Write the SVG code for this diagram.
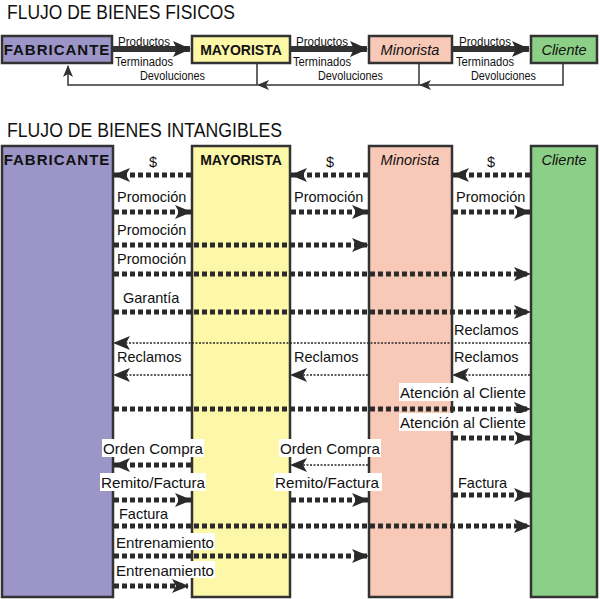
<svg xmlns="http://www.w3.org/2000/svg" width="600" height="599" viewBox="0 0 600 599">
<style>
text{font-family:"Liberation Sans",Arial,sans-serif;fill:#111}
.t{font-size:20px}
.l{font-size:14.5px}
.s{font-size:12px}
.h{font-size:14px;font-weight:bold}
.box{stroke:#333;stroke-width:2.5}
.d{stroke:#2a2a2a;stroke-width:5;stroke-dasharray:5 3;fill:none}
.th{stroke:#2a2a2a;stroke-width:1.5;stroke-dasharray:2 1.5;fill:none}
.p{stroke:#333;stroke-width:6;fill:none}
.r{stroke:#333;stroke-width:1.5;fill:none}
.w{fill:#fff}
</style>
<defs>
<marker id="a" markerUnits="userSpaceOnUse" markerWidth="18" markerHeight="16" refX="17" refY="8" orient="auto"><path d="M0,0 L18,8 L0,16 L4,8 Z" fill="#2a2a2a"/></marker>
<marker id="b" markerUnits="userSpaceOnUse" markerWidth="17" markerHeight="14" refX="16" refY="7" orient="auto"><path d="M0,0 L17,7 L0,14 L4,7 Z" fill="#2a2a2a"/></marker>
<marker id="c" markerUnits="userSpaceOnUse" markerWidth="12" markerHeight="12" refX="11" refY="6" orient="auto"><path d="M0,1 L12,6 L0,11 L3,6 Z" fill="#333"/></marker>
</defs>
<text class="t" x="7" y="19" textLength="228" lengthAdjust="spacingAndGlyphs">FLUJO DE BIENES FISICOS</text>
<text class="t" x="7" y="137" textLength="275" lengthAdjust="spacingAndGlyphs">FLUJO DE BIENES INTANGIBLES</text>

<g id="fis-fabricante"><rect class="box" x="2" y="36" width="110" height="27" fill="#9c95c8"/><text class="h" x="57" y="55" text-anchor="middle" style="font-size:15px;letter-spacing:1px">FABRICANTE</text></g>
<g id="fis-mayorista"><rect class="box" x="192" y="36" width="98" height="27" fill="#fdf7a8"/><text class="h" x="241" y="55" text-anchor="middle">MAYORISTA</text></g>
<g id="fis-minorista"><rect class="box" x="369" y="36" width="83" height="27" fill="#f9c9b8"/><text class="l" x="410" y="55" text-anchor="middle" font-style="italic">Minorista</text></g>
<g id="fis-cliente"><rect class="box" x="531" y="36" width="66" height="27" fill="#8ccf86"/><text class="l" x="564" y="55" text-anchor="middle" font-style="italic">Cliente</text></g>

<g id="fis-connectors">
<line class="p" x1="113" y1="49" x2="190" y2="49" marker-end="url(#a)"/>
<line class="p" x1="291" y1="49" x2="367" y2="49" marker-end="url(#a)"/>
<line class="p" x1="453" y1="49" x2="529" y2="49" marker-end="url(#a)"/>
<path class="r" d="M563,63 V85 H420" marker-end="url(#c)"/>
<path class="r" d="M419,63 V85 H258" marker-end="url(#c)"/>
<path class="r" d="M257,63 V85 H68 V66" marker-end="url(#c)"/>
<text class="s" x="118" y="46" textLength="52" lengthAdjust="spacingAndGlyphs">Productos</text><text class="s" x="115" y="66" textLength="58" lengthAdjust="spacingAndGlyphs">Terminados</text>
<text class="s" x="296" y="46" textLength="52" lengthAdjust="spacingAndGlyphs">Productos</text><text class="s" x="293" y="66" textLength="58" lengthAdjust="spacingAndGlyphs">Terminados</text>
<text class="s" x="459" y="46" textLength="52" lengthAdjust="spacingAndGlyphs">Productos</text><text class="s" x="456" y="66" textLength="58" lengthAdjust="spacingAndGlyphs">Terminados</text>
<text class="s" x="140" y="80" textLength="65" lengthAdjust="spacingAndGlyphs">Devoluciones</text>
<text class="s" x="318" y="80" textLength="65" lengthAdjust="spacingAndGlyphs">Devoluciones</text>
<text class="s" x="471" y="80" textLength="65" lengthAdjust="spacingAndGlyphs">Devoluciones</text>
</g>

<g id="fabricante"><rect class="box" x="2" y="146" width="111" height="451" fill="#9c95c8"/><text class="h" x="57" y="165" text-anchor="middle" style="font-size:15px;letter-spacing:1px">FABRICANTE</text></g>
<g id="mayorista"><rect class="box" x="192" y="146" width="98" height="451" fill="#fdf7a8"/><text class="h" x="241" y="165" text-anchor="middle">MAYORISTA</text></g>
<g id="minorista"><rect class="box" x="369" y="146" width="83" height="451" fill="#f9c9b8"/><text class="l" x="410" y="165" text-anchor="middle" font-style="italic">Minorista</text></g>
<g id="cliente"><rect class="box" x="531" y="146" width="66" height="451" fill="#8ccf86"/><text class="l" x="564" y="165" text-anchor="middle" font-style="italic">Cliente</text></g>

<g id="connectors">
<line class="d" x1="191" y1="175" x2="114" y2="175" marker-end="url(#b)"/>
<line class="d" x1="368" y1="175" x2="291" y2="175" marker-end="url(#b)"/>
<line class="d" x1="530" y1="175" x2="453" y2="175" marker-end="url(#b)"/>
<line class="d" x1="114" y1="212" x2="191" y2="212" marker-end="url(#b)"/>
<line class="d" x1="291" y1="212" x2="368" y2="212" marker-end="url(#b)"/>
<line class="d" x1="453" y1="212" x2="530" y2="212" marker-end="url(#b)"/>
<line class="d" x1="114" y1="245" x2="368" y2="245" marker-end="url(#b)"/>
<line class="d" x1="114" y1="274" x2="530" y2="274" marker-end="url(#b)"/>
<line class="d" x1="114" y1="312" x2="530" y2="312" marker-end="url(#b)"/>
<line class="th" x1="530" y1="343" x2="114" y2="343" marker-end="url(#b)"/>
<line class="th" x1="191" y1="375" x2="114" y2="375" marker-end="url(#b)"/>
<line class="th" x1="368" y1="375" x2="291" y2="375" marker-end="url(#b)"/>
<line class="th" x1="530" y1="375" x2="453" y2="375" marker-end="url(#b)"/>
<line class="d" x1="114" y1="409" x2="530" y2="409" marker-end="url(#b)"/>
<line class="d" x1="453" y1="438" x2="530" y2="438" marker-end="url(#b)"/>
<line class="d" x1="191" y1="465" x2="114" y2="465" marker-end="url(#b)"/>
<line class="th" x1="368" y1="465" x2="291" y2="465" marker-end="url(#b)"/>
<line class="d" x1="114" y1="500" x2="191" y2="500" marker-end="url(#b)"/>
<line class="d" x1="291" y1="500" x2="368" y2="500" marker-end="url(#b)"/>
<line class="d" x1="453" y1="495" x2="530" y2="495" marker-end="url(#b)"/>
<line class="d" x1="114" y1="526" x2="530" y2="526" marker-end="url(#b)"/>
<line class="d" x1="114" y1="556" x2="368" y2="556" marker-end="url(#b)"/>
<line class="d" x1="114" y1="586" x2="188" y2="586" marker-end="url(#b)"/>
</g>

<g id="labels">
<text class="l" x="153" y="167" text-anchor="middle">$</text>
<text class="l" x="330" y="167" text-anchor="middle">$</text>
<text class="l" x="491" y="167" text-anchor="middle">$</text>
<text class="l" x="117" y="202">Promoción</text>
<text class="l" x="294" y="202">Promoción</text>
<text class="l" x="456" y="202">Promoción</text>
<text class="l" x="117" y="235">Promoción</text>
<text class="l" x="117" y="264">Promoción</text>
<text class="l" x="123" y="303">Garantía</text>
<text class="l" x="454" y="335">Reclamos</text>
<text class="l" x="117" y="362">Reclamos</text>
<text class="l" x="294" y="362">Reclamos</text>
<text class="l" x="454" y="362">Reclamos</text>
<rect class="w" x="399" y="383" width="128" height="18"/>
<text class="l" x="400" y="398" textLength="126" lengthAdjust="spacingAndGlyphs">Atención al Cliente</text>
<rect class="w" x="399" y="413" width="128" height="18"/>
<text class="l" x="400" y="428" textLength="126" lengthAdjust="spacingAndGlyphs">Atención al Cliente</text>
<rect class="w" x="102" y="439" width="102" height="18"/>
<text class="l" x="103" y="454" textLength="100" lengthAdjust="spacingAndGlyphs">Orden Compra</text>
<rect class="w" x="279" y="439" width="102" height="18"/>
<text class="l" x="280" y="454" textLength="100" lengthAdjust="spacingAndGlyphs">Orden Compra</text>
<rect class="w" x="100" y="473" width="106" height="18"/>
<text class="l" x="101" y="488" textLength="104" lengthAdjust="spacingAndGlyphs">Remito/Factura</text>
<rect class="w" x="274" y="473" width="108" height="18"/>
<text class="l" x="275" y="488" textLength="104" lengthAdjust="spacingAndGlyphs">Remito/Factura</text>
<text class="l" x="458" y="488">Factura</text>
<text class="l" x="119" y="519">Factura</text>
<rect class="w" x="115" y="533" width="100" height="17"/>
<text class="l" x="116" y="548" textLength="98" lengthAdjust="spacingAndGlyphs">Entrenamiento</text>
<rect class="w" x="115" y="561" width="100" height="17"/>
<text class="l" x="116" y="576" textLength="98" lengthAdjust="spacingAndGlyphs">Entrenamiento</text>
</g>
</svg>
